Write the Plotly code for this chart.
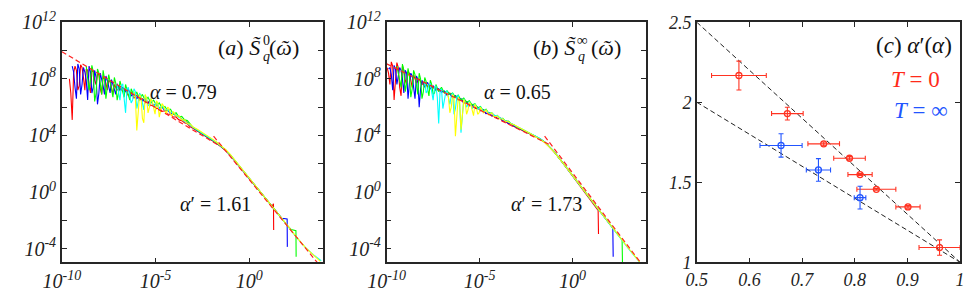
import plotly.graph_objects as go

# ---------------- data (log10 values) ----------------
GRID = [-9.9, -9.75, -9.6, -9.45, -9.3, -9.15, -9.0, -8.85, -8.7, -8.55, -8.4, -8.25,
        -8.1, -7.95, -7.8, -7.65, -7.5, -7.35, -7.2, -7.05, -6.9, -6.75, -6.6, -6.45,
        -6.3, -6.15, -6.0, -5.85, -5.7, -5.55, -5.4, -5.25, -5.1, -4.95, -4.8, -4.65,
        -4.5, -4.35, -4.2, -4.05, -3.9, -3.75, -3.6, -3.45, -3.3, -3.15, -3.0]
TAIL_X = [-2.75, -2.5, -2.25, -2.0, -1.75, -1.5, -1.25, -1.0, -0.5, 0.0, 0.5, 1.0,
          1.5, 2.0, 2.5, 3.0, 3.5]

# panel (a)  T = 0
A_RED_NOISE = [8.0, 5.1, 8.9, 7.2, 9.0, 8.1, 8.7, 7.6, 8.5, 7.9, 8.3, 7.3, 8.1, 7.7, 7.9,
               7.4, 7.6, 7.2, 7.4, 7.1,
               7.2, 6.8, 7.05, 6.65, 6.85, 6.5, 6.6, 6.3, 6.4, 6.1, 6.15, 5.9, 5.95, 5.7,
               5.75, 5.5, 5.5, 5.3, 5.3, 5.1, 5.05, 4.9, 4.82, 4.62, 4.5]
A_RED_SPIKE_X = [-9.525, -9.375, -9.225, -9.075, -8.925, -8.775, -8.625, -8.475, -8.325,
                 -8.175, -8.025, -7.875, -7.725, -7.575, -7.425, -7.275]
A_RED_SPIKE_Y = [7.0, 8.4, 8.6, 7.5, 8.8, 7.2, 8.6, 7.0, 8.6, 7.6, 8.3, 6.9, 8.0, 7.2, 7.8, 6.9]
A_RED_TAIL = [4.3, 4.1, 3.9, 3.68, 3.45, 3.2, 2.93, 2.57, 1.77, 0.97, 0.15, -0.68]
A_RED_END_X = [1.22, 1.3, 1.31]
A_RED_END_Y = [-1.0, -0.83, -2.68]

A_BLUE_NOISE = [8.9, 7.4, 9.05, 6.9, 8.8, 7.9, 8.9, 7.0, 8.6, 6.2, 8.4, 7.5, 8.2, 7.3, 7.95,
                7.4, 7.65, 7.2, 7.4, 7.1,
                7.25, 6.8, 7.0, 6.6, 6.85, 6.45, 6.6, 6.3, 6.45, 6.1, 6.25, 5.95, 6.0, 5.75,
                5.8, 5.55, 5.6, 5.35, 5.35, 5.15, 5.1, 4.9, 4.75, 4.55]
A_BLUE_SPIKE_X = [-9.375, -9.225, -9.075, -8.925, -8.775, -8.625, -8.475, -8.325, -8.175,
                  -8.025, -7.875, -7.725, -7.575, -7.425, -7.275, -7.125]
A_BLUE_SPIKE_Y = [8.5, 6.6, 8.7, 7.6, 8.5, 6.5, 8.5, 7.4, 8.1, 7.0, 8.0, 6.9, 7.9, 7.0, 7.6, 6.9]
A_BLUE_TAIL = [4.33, 4.13, 3.93, 3.71, 3.48, 3.22, 2.95, 2.6, 1.8, 1.0, 0.17, -0.65, -1.45]
A_BLUE_END_X = [1.75, 2.03, 2.04]
A_BLUE_END_Y = [-1.85, -1.9, -3.87]

A_GREEN_NOISE = [8.9, 7.2, 8.95, 6.4, 8.7, 7.6, 8.6, 6.6, 8.3, 7.3, 8.1, 6.5, 7.85, 7.1, 7.6,
                 6.9, 7.3, 6.8, 7.05, 6.6,
                 6.9, 6.45, 6.7, 6.3, 6.5, 6.1, 6.3, 5.95, 6.05, 5.75, 5.85, 5.5, 5.6, 5.3,
                 5.35, 5.1, 5.05, 4.8, 4.58]
A_GREEN_SPIKE_X = [-8.625, -8.475, -8.325, -8.175, -8.025, -7.875, -7.725, -7.575, -7.425,
                   -7.275, -7.125, -6.975, -6.825, -6.675, -6.525, -6.375]
A_GREEN_SPIKE_Y = [8.2, 7.9, 8.5, 7.0, 8.4, 6.9, 8.0, 7.4, 7.8, 6.7, 7.7, 7.0, 7.5, 6.7, 7.2, 6.5]
A_GREEN_TAIL = [4.35, 4.15, 3.95, 3.73, 3.5, 3.24, 2.97, 2.62, 1.82, 1.01, 0.18, -0.64, -1.45, -2.3]
A_GREEN_END_X = [2.25, 2.5, 2.51]
A_GREEN_END_Y = [-2.65, -2.72, -4.57]

A_CYAN_NOISE = [7.6, 6.5, 7.65, 5.6, 7.4, 6.3, 7.3, 5.9, 7.0, 6.2, 6.85, 6.1, 6.6, 6.0, 6.35,
                5.9, 6.1, 5.8, 5.85, 5.62, 5.6, 5.42, 5.3, 5.15, 5.0, 4.85, 4.7, 4.58]
A_CYAN_SPIKE_X = [-6.975, -6.825, -6.675, -6.525, -6.375, -6.225, -6.075, -5.925, -5.775,
                  -5.625, -5.475, -5.325]
A_CYAN_SPIKE_Y = [7.0, 7.5, 6.6, 7.3, 6.8, 6.5, 7.1, 6.4, 6.8, 5.8, 6.6, 6.2]
A_CYAN_TAIL = [4.37, 4.17, 3.97, 3.75, 3.52, 3.25, 2.98, 2.63, 1.82, 1.01, 0.18, -0.64, -1.45,
               -2.3, -3.15, -3.9, -4.5]
A_CYAN_END_X = [3.85]
A_CYAN_END_Y = [-4.85]

A_YELLOW_NOISE = [7.1, 4.35, 6.9, 5.2, 6.9, 5.6, 6.6, 5.9, 6.45, 5.3, 6.25, 5.75, 6.0, 5.5,
                  5.7, 5.35, 5.4, 5.1, 5.1, 4.85, 4.8, 4.6]
A_YELLOW_SPIKE_X = [-6.075, -5.925, -5.775, -5.625, -5.475, -5.325, -5.175, -5.025, -4.875,
                    -4.725, -4.575, -4.425, -4.275, -4.125]
A_YELLOW_SPIKE_Y = [6.6, 5.8, 6.7, 4.9, 6.6, 6.0, 6.4, 5.5, 6.3, 5.8, 6.1, 5.5, 5.9, 5.4]
A_YELLOW_TAIL = [4.42, 4.22, 4.01, 3.78, 3.54, 3.27, 2.99, 2.64, 1.83, 1.02, 0.19, -0.63, -1.44,
                 -2.28, -3.13, -3.9, -4.52]
A_YELLOW_END_X = [3.8]
A_YELLOW_END_Y = [-4.9]

A_FIT1_X = [-10.0, -1.6]
A_FIT1_Y = [9.92, 3.28]
A_FIT2_X = [-1.9, 3.75]
A_FIT2_Y = [3.95, -5.15]

# panel (b)  T = infinity
B_RED_NOISE = [8.4, 9.2, 6.5, 9.15, 7.4, 8.9, 7.9, 8.5, 7.8, 8.3, 7.7, 8.0, 7.6, 7.8, 7.45,
               7.6, 7.35, 7.4, 7.15, 7.15,
               7.05, 6.85, 7.0, 6.7, 6.8, 6.5, 6.55, 6.3, 6.35, 6.1, 6.15, 5.9, 5.95, 5.75,
               5.75, 5.55, 5.6, 5.38, 5.4, 5.2, 5.2, 5.0, 5.0, 4.82, 4.8, 4.64, 4.55]
B_RED_SPIKE_X = [-9.975, -9.825, -9.675, -9.525, -9.375, -9.225, -9.075, -8.925, -8.775, -8.625]
B_RED_SPIKE_Y = [8.8, 7.6, 8.9, 7.9, 8.8, 6.8, 8.6, 7.6, 8.4, 7.4]
B_RED_TAIL = [4.4, 4.24, 4.08, 3.92, 3.74, 3.52, 3.2, 2.85, 2.02, 1.15, 0.3, -0.62]
B_RED_END_X = [1.38, 1.4]
B_RED_END_Y = [-1.3, -2.96]

B_BLUE_NOISE = [8.7, 8.3, 8.95, 7.6, 8.8, 8.0, 8.6, 6.6, 8.4, 7.2, 8.2, 6.0, 7.9, 7.4, 7.75,
                7.3, 7.5, 7.2, 7.3, 7.05,
                7.15, 6.85, 6.95, 6.65, 6.8, 6.55, 6.6, 6.3, 6.4, 6.1, 6.2, 5.95, 6.0, 5.75,
                5.82, 5.55, 5.62, 5.4, 5.42, 5.2, 5.25, 5.02, 5.05, 4.85, 4.85, 4.66, 4.58]
B_BLUE_SPIKE_X = [-9.825, -9.675, -9.525, -9.375, -9.225, -9.075, -8.925, -8.775, -8.625,
                  -8.475, -8.325, -8.175]
B_BLUE_SPIKE_Y = [8.8, 7.2, 8.7, 8.2, 8.6, 7.0, 8.4, 7.7, 8.2, 6.6, 8.0, 7.3]
B_BLUE_TAIL = [4.43, 4.27, 4.1, 3.94, 3.76, 3.54, 3.22, 2.87, 2.03, 1.16, 0.3, -0.57, -1.42, -2.28]
B_BLUE_END_X = [2.17, 2.19]
B_BLUE_END_Y = [-2.55, -4.57]

B_GREEN_NOISE = [8.9, 7.8, 9.05, 7.1, 8.75, 6.7, 8.6, 7.6, 8.4, 6.6, 8.1, 7.3, 7.9, 6.9, 7.6,
                 7.1, 7.4, 7.0, 7.15, 6.9,
                 7.0, 6.7, 6.85, 6.5, 6.65, 6.35, 6.45, 6.15, 6.25, 5.95, 6.05, 5.75, 5.85,
                 5.55, 5.62, 5.38, 5.42, 5.2, 5.22, 5.0, 5.02, 4.82, 4.75, 4.6]
B_GREEN_SPIKE_X = [-9.375, -9.225, -9.075, -8.925, -8.775, -8.625, -8.475, -8.325, -8.175,
                   -8.025, -7.875, -7.725, -7.575, -7.425]
B_GREEN_SPIKE_Y = [8.4, 7.4, 8.6, 7.7, 8.2, 7.3, 8.3, 6.9, 8.0, 7.1, 7.8, 6.8, 7.6, 7.0]
B_GREEN_TAIL = [4.45, 4.29, 4.12, 3.95, 3.77, 3.55, 3.23, 2.88, 2.04, 1.17, 0.31, -0.55, -1.4,
                -2.26, -3.1]
B_GREEN_END_X = [2.67, 2.69]
B_GREEN_END_Y = [-3.4, -5.0]

B_CYAN_NOISE = [7.8, 7.2, 7.65, 6.5, 7.5, 4.85, 7.3, 6.4, 7.15, 6.2, 7.0, 5.9, 6.85, 4.2, 6.6,
                6.0, 6.4, 5.9, 6.2, 5.85, 6.0, 5.7, 5.8, 5.55, 5.6, 5.4, 5.4, 5.22, 5.18, 5.03,
                4.96, 4.83, 4.75, 4.63]
B_CYAN_SPIKE_X = [-7.875, -7.725, -7.575, -7.425, -7.275, -7.125, -6.975, -6.825, -6.675,
                  -6.525, -6.375, -6.225, -6.075]
B_CYAN_SPIKE_Y = [7.0, 7.6, 6.9, 7.4, 6.7, 7.2, 5.9, 7.0, 6.5, 6.8, 5.5, 6.7, 6.2]
B_CYAN_TAIL = [4.47, 4.3, 4.13, 3.96, 3.78, 3.55, 3.22, 2.87, 2.02, 1.15, 0.29, -0.57, -1.42,
               -2.28, -3.12, -3.98, -4.78]
B_CYAN_END_X = [3.65]
B_CYAN_END_Y = [-5.0]

B_YELLOW_NOISE = [7.0, 5.6, 6.9, 3.95, 6.7, 4.4, 6.55, 5.5, 6.35, 5.7, 6.2, 5.5, 6.0, 5.6, 5.8,
                  5.45, 5.6, 5.3, 5.38, 5.15, 5.18, 5.0, 4.97, 4.82, 4.76, 4.64]
B_YELLOW_SPIKE_X = [-6.675, -6.525, -6.375, -6.225, -6.075, -5.925, -5.775, -5.625, -5.475,
                    -5.325, -5.175, -5.025]
B_YELLOW_SPIKE_Y = [6.7, 6.0, 6.6, 5.2, 6.5, 5.4, 6.3, 5.8, 6.2, 5.4, 6.0, 5.6]
B_YELLOW_TAIL = [4.48, 4.3, 4.12, 3.94, 3.75, 3.52, 3.2, 2.86, 2.03, 1.17, 0.31, -0.55, -1.4,
                 -2.26, -3.1, -3.95, -4.75]
B_YELLOW_END_X = [3.62]
B_YELLOW_END_Y = [-4.95]

B_FIT1_X = [-10.0, -1.25]
B_FIT1_Y = [9.06, 3.37]
B_FIT2_X = [-1.5, 3.7]
B_FIT2_Y = [3.96, -5.04]

# panel (c)
ALPHA_T0 = [0.58, 0.672, 0.741, 0.79, 0.81, 0.841, 0.901, 0.961]
ALPHAP_T0 = [2.167, 1.929, 1.74, 1.65, 1.548, 1.456, 1.346, 1.092]
XERR_T0 = [0.052, 0.03, 0.03, 0.03, 0.023, 0.037, 0.023, 0.039]
YERR_T0 = [0.09, 0.04, 0.012, 0.01, 0.006, 0.006, 0.008, 0.048]
ALPHA_TINF = [0.66, 0.731, 0.81]
ALPHAP_TINF = [1.73, 1.577, 1.404]
XERR_TINF = [0.04, 0.023, 0.011]
YERR_TINF = [0.073, 0.071, 0.071]
GUIDE_X = [0.5, 1.0]
GUIDE_UPPER_Y = [2.5, 1.0]
GUIDE_LOWER_Y = [2.0, 1.0]

# ---------------- figure ----------------
W, H = 969, 300
FONT = "Liberation Serif"
AX = "#262626"
COLORS = {"red": "#ff0000", "blue": "#0000ff", "green": "#00ff00",
          "cyan": "#00ffff", "yellow": "#ffff00"}


def series(noise, sx, sy, tail, end_x, end_y):
    head = sorted(zip(GRID[len(GRID) - len(noise):] + sx, noise + sy))
    xs = [p[0] for p in head] + TAIL_X[:len(tail)] + end_x
    ys = [p[1] for p in head] + tail + end_y
    return [10 ** v for v in xs], [10 ** v for v in ys]


fig = go.Figure()

panels = [
    ("x", "y", [
        ("red", A_RED_NOISE, A_RED_SPIKE_X, A_RED_SPIKE_Y, A_RED_TAIL, A_RED_END_X, A_RED_END_Y),
        ("blue", A_BLUE_NOISE, A_BLUE_SPIKE_X, A_BLUE_SPIKE_Y, A_BLUE_TAIL, A_BLUE_END_X, A_BLUE_END_Y),
        ("green", A_GREEN_NOISE, A_GREEN_SPIKE_X, A_GREEN_SPIKE_Y, A_GREEN_TAIL, A_GREEN_END_X, A_GREEN_END_Y),
        ("cyan", A_CYAN_NOISE, A_CYAN_SPIKE_X, A_CYAN_SPIKE_Y, A_CYAN_TAIL, A_CYAN_END_X, A_CYAN_END_Y),
        ("yellow", A_YELLOW_NOISE, A_YELLOW_SPIKE_X, A_YELLOW_SPIKE_Y, A_YELLOW_TAIL, A_YELLOW_END_X, A_YELLOW_END_Y),
    ], [(A_FIT1_X, A_FIT1_Y), (A_FIT2_X, A_FIT2_Y)]),
    ("x2", "y2", [
        ("red", B_RED_NOISE, B_RED_SPIKE_X, B_RED_SPIKE_Y, B_RED_TAIL, B_RED_END_X, B_RED_END_Y),
        ("blue", B_BLUE_NOISE, B_BLUE_SPIKE_X, B_BLUE_SPIKE_Y, B_BLUE_TAIL, B_BLUE_END_X, B_BLUE_END_Y),
        ("green", B_GREEN_NOISE, B_GREEN_SPIKE_X, B_GREEN_SPIKE_Y, B_GREEN_TAIL, B_GREEN_END_X, B_GREEN_END_Y),
        ("cyan", B_CYAN_NOISE, B_CYAN_SPIKE_X, B_CYAN_SPIKE_Y, B_CYAN_TAIL, B_CYAN_END_X, B_CYAN_END_Y),
        ("yellow", B_YELLOW_NOISE, B_YELLOW_SPIKE_X, B_YELLOW_SPIKE_Y, B_YELLOW_TAIL, B_YELLOW_END_X, B_YELLOW_END_Y),
    ], [(B_FIT1_X, B_FIT1_Y), (B_FIT2_X, B_FIT2_Y)]),
]

for xa, ya, curves, fits in panels:
    for name, noise, sx, sy, tail, ex, ey in curves:
        xs, ys = series(noise, sx, sy, tail, ex, ey)
        fig.add_trace(go.Scatter(x=xs, y=ys, mode="lines", xaxis=xa, yaxis=ya,
                                 line=dict(color=COLORS[name], width=1.1), showlegend=False,
                                 hoverinfo="skip"))
    for fx, fy in fits:
        fig.add_trace(go.Scatter(x=[10 ** v for v in fx], y=[10 ** v for v in fy], mode="lines",
                                 xaxis=xa, yaxis=ya, showlegend=False, hoverinfo="skip",
                                 line=dict(color="#ff2020", width=1.2, dash="5px,3px")))

# panel (c)
for gy in (GUIDE_UPPER_Y, GUIDE_LOWER_Y):
    fig.add_trace(go.Scatter(x=GUIDE_X, y=gy, mode="lines", xaxis="x3", yaxis="y3",
                             showlegend=False, hoverinfo="skip",
                             line=dict(color="#222222", width=1, dash="5px,3px")))
for xs, ys, ex, ey, col in [
    (ALPHA_T0, ALPHAP_T0, XERR_T0, YERR_T0, "#ff3322"),
    (ALPHA_TINF, ALPHAP_TINF, XERR_TINF, YERR_TINF, "#2255ff"),
]:
    fig.add_trace(go.Scatter(
        x=xs, y=ys, mode="markers", xaxis="x3", yaxis="y3", showlegend=False,
        marker=dict(symbol="circle-open", size=6, color=col, line=dict(width=1.3, color=col)),
        error_x=dict(type="data", array=ex, color=col, thickness=1.1, width=2.5),
        error_y=dict(type="data", array=ey, color=col, thickness=1.1, width=2.5),
    ))

Y0, Y1 = 1 - 270 / H, 1 - 10 / H
doms = {"a": (44 / W, 312 / W), "b": (377 / W, 643 / W), "c": (695 / W, 965 / W)}

ytv = [10.0 ** k for k in range(-4, 13, 2)]
ytt = ["10<sup>%d</sup>" % k if k % 4 == 0 else "" for k in range(-4, 13, 2)]
xtv = [1e-10, 1e-5, 1.0]
xtt = ["10<sup>-10</sup>", "10<sup>-5</sup>", "10<sup>0</sup>"]

tickfont_log = dict(family=FONT, size=20, color="#222222", style="italic")
tickfont_lin = dict(family=FONT, size=18, color="#222222", style="italic")

common = dict(showgrid=False, zeroline=False, showline=True, linecolor=AX, linewidth=1.6,
              mirror="ticks", ticks="inside", ticklen=5, tickcolor=AX, tickwidth=1,
              ticklabeloverflow="allow")

fig.update_layout(
    width=W, height=H, margin=dict(l=0, r=0, t=0, b=0),
    paper_bgcolor="white", plot_bgcolor="white",
    xaxis=dict(domain=doms["a"], type="log", range=[-10, 3.96], anchor="y",
               tickvals=xtv, ticktext=xtt, tickfont=tickfont_log, **common),
    yaxis=dict(domain=[Y0, Y1], type="log", range=[-4.96, 12], anchor="x",
               tickvals=ytv, ticktext=ytt, tickfont=tickfont_log, **common),
    xaxis2=dict(domain=doms["b"], type="log", range=[-10, 3.96], anchor="y2",
                tickvals=xtv, ticktext=xtt, tickfont=tickfont_log, **common),
    yaxis2=dict(domain=[Y0, Y1], type="log", range=[-4.96, 12], anchor="x2",
                tickvals=ytv, ticktext=ytt, tickfont=tickfont_log, **common),
    xaxis3=dict(domain=doms["c"], range=[0.5, 1.0], anchor="y3",
                tickvals=[0.5, 0.6, 0.7, 0.8, 0.9, 1.0],
                ticktext=["0.5", "0.6", "0.7", "0.8", "0.9", "1"],
                tickfont=tickfont_lin, **common),
    yaxis3=dict(domain=[Y0, Y1], range=[1.0, 2.5], anchor="x3",
                tickvals=[1.0, 1.5, 2.0, 2.5], ticktext=["1", "1.5", "2", "2.5"],
                tickfont=tickfont_lin, **common),
)


def ann(px, py, text, size, xanchor="center", color="#111111"):
    fig.add_annotation(x=px / W, y=1 - py / H, xref="paper", yref="paper", text=text,
                       showarrow=False, xanchor=xanchor, yanchor="middle", borderpad=0,
                       font=dict(family=FONT, size=size, color=color))


# slope labels
ann(169, 86, "<i>α</i> = 0.79", 20)
ann(201, 207, "<i>α</i>′ = 1.61", 20)
ann(511, 86, "<i>α</i> = 0.65", 20)
ann(541, 207, "<i>α</i>′ = 1.73", 20)

# panel titles (a), (b)
ann(249, 37, "(<i>a</i>) <i>S̃</i>", 22, "right")
ann(249, 30, "0", 14, "left")
ann(249, 47, "<i>q</i>", 14, "left")
ann(255, 37, "(<i>ῶ</i>)", 22, "left")

ann(572, 37, "(<i>b</i>) <i>S̃</i>", 22, "right")
ann(571, 29, "∞", 15, "left")
ann(572, 47, "<i>q</i>", 14, "left")
ann(586, 37, "(<i>ῶ</i>)", 22, "left")

# panel (c) texts
ann(958, 35, "(<i>c</i>) <i>α</i>′(<i>α</i>)", 23, "right")
ann(919, 72, "<i>T</i> = 0", 23, "center", "#ff2a1a")
ann(925, 106, "<i>T</i> = ∞", 23, "center", "#2255ff")

fig.write_html("out.html", post_script="document.body.style.margin='0px';",
               config={"displayModeBar": False})
